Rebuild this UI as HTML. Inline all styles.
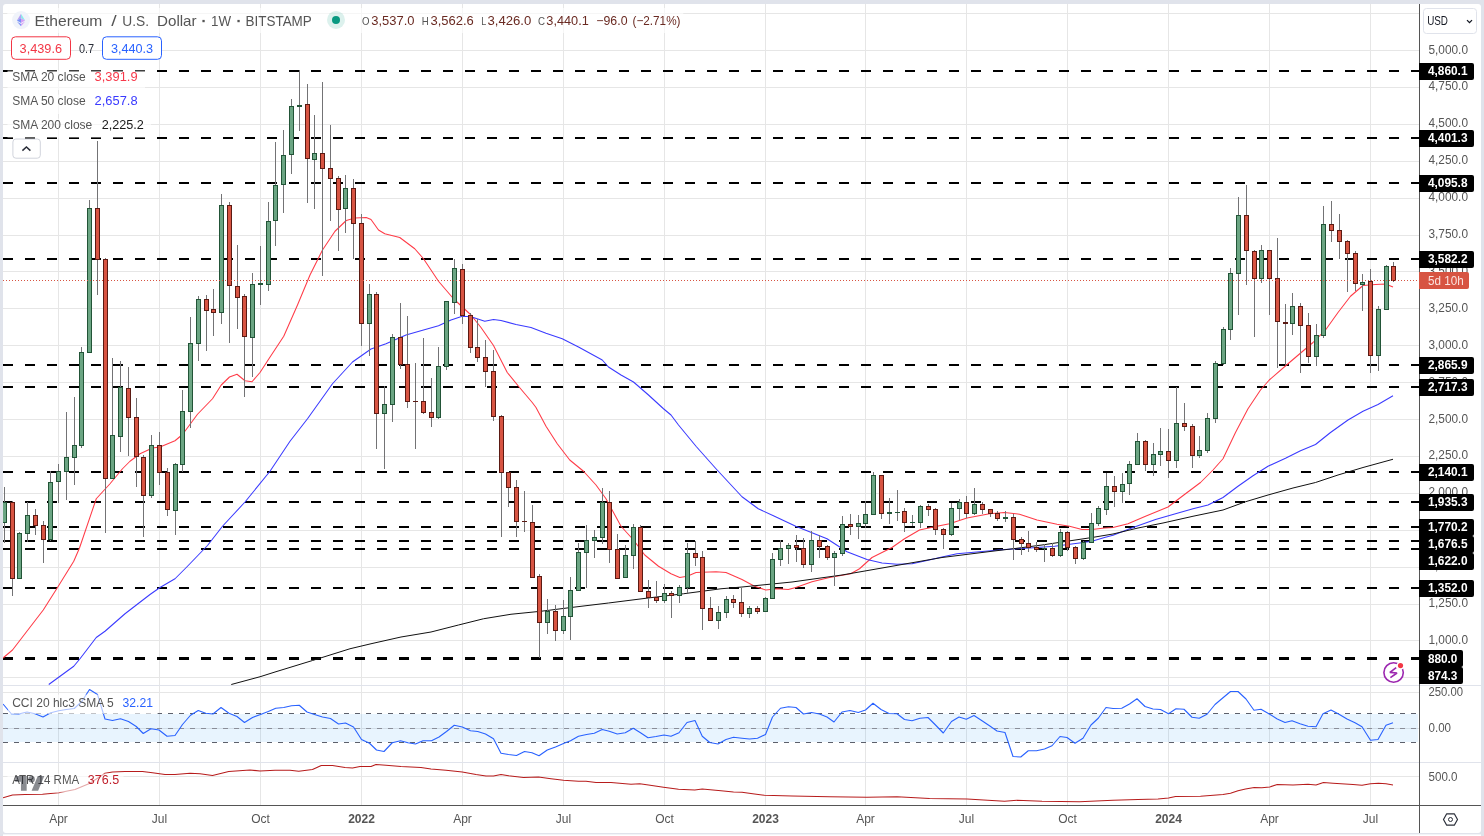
<!DOCTYPE html>
<html><head><meta charset="utf-8"><title>ETHUSD</title>
<style>html,body{margin:0;padding:0;background:#e0e3eb;}body{width:1484px;height:836px;overflow:hidden;font-family:"Liberation Sans", sans-serif;}svg{display:block;will-change:transform;}</style>
</head><body>
<svg width="1484" height="836" viewBox="0 0 1484 836" font-family='"Liberation Sans", sans-serif'>
<rect width="1484" height="836" fill="#e0e3eb"/>
<rect x="3" y="4" width="1478" height="829" rx="3" fill="#fff"/>
<rect x="3" y="834.4" width="1478" height="1.6" fill="#fff"/>
<clipPath id="cm"><rect x="3" y="4" width="1416" height="681"/></clipPath>
<clipPath id="call"><rect x="3" y="4" width="1416" height="801"/></clipPath>
<g shape-rendering="crispEdges" fill="#e6e6e6">
<rect x="58" y="4" width="1" height="801"/>
<rect x="159" y="4" width="1" height="801"/>
<rect x="260" y="4" width="1" height="801"/>
<rect x="361" y="4" width="1" height="801"/>
<rect x="462" y="4" width="1" height="801"/>
<rect x="563" y="4" width="1" height="801"/>
<rect x="664" y="4" width="1" height="801"/>
<rect x="765" y="4" width="1" height="801"/>
<rect x="865" y="4" width="1" height="801"/>
<rect x="966" y="4" width="1" height="801"/>
<rect x="1067" y="4" width="1" height="801"/>
<rect x="1168" y="4" width="1" height="801"/>
<rect x="1269" y="4" width="1" height="801"/>
<rect x="1370" y="4" width="1" height="801"/>
<rect x="3" y="13" width="1416" height="1"/>
<rect x="3" y="50" width="1416" height="1"/>
<rect x="3" y="87" width="1416" height="1"/>
<rect x="3" y="124" width="1416" height="1"/>
<rect x="3" y="161" width="1416" height="1"/>
<rect x="3" y="198" width="1416" height="1"/>
<rect x="3" y="235" width="1416" height="1"/>
<rect x="3" y="271" width="1416" height="1"/>
<rect x="3" y="308" width="1416" height="1"/>
<rect x="3" y="345" width="1416" height="1"/>
<rect x="3" y="382" width="1416" height="1"/>
<rect x="3" y="419" width="1416" height="1"/>
<rect x="3" y="456" width="1416" height="1"/>
<rect x="3" y="493" width="1416" height="1"/>
<rect x="3" y="530" width="1416" height="1"/>
<rect x="3" y="567" width="1416" height="1"/>
<rect x="3" y="604" width="1416" height="1"/>
<rect x="3" y="640" width="1416" height="1"/>
<rect x="3" y="677" width="1416" height="1"/>
<rect x="3" y="692" width="1416" height="1"/>
<rect x="3" y="728" width="1416" height="1"/>
<rect x="3" y="776" width="1416" height="1"/>
</g>
<g shape-rendering="crispEdges" fill="#e0e3eb"><rect x="3" y="685" width="1478" height="1"/><rect x="3" y="762" width="1478" height="1"/></g>
<rect x="3" y="714" width="1415" height="28" fill="#2196f3" fill-opacity="0.1" shape-rendering="crispEdges"/>
<g stroke-width="1" stroke-dasharray="5 6" shape-rendering="crispEdges">
<line x1="3" y1="713.5" x2="1418" y2="713.5" stroke="#5d606b"/>
<line x1="3" y1="728.5" x2="1418" y2="728.5" stroke="#8a8d98"/>
<line x1="3" y1="742.5" x2="1418" y2="742.5" stroke="#5d606b"/>
</g>
<g stroke="#000" stroke-width="2" stroke-dasharray="10 12" shape-rendering="crispEdges">
<line x1="3" y1="71" x2="1419" y2="71"/>
<line x1="3" y1="138" x2="1419" y2="138"/>
<line x1="3" y1="183" x2="1419" y2="183"/>
<line x1="3" y1="259" x2="1419" y2="259"/>
<line x1="3" y1="365" x2="1419" y2="365"/>
<line x1="3" y1="387" x2="1419" y2="387"/>
<line x1="3" y1="472" x2="1419" y2="472"/>
<line x1="3" y1="502" x2="1419" y2="502"/>
<line x1="3" y1="527" x2="1419" y2="527"/>
<line x1="3" y1="541" x2="1419" y2="541"/>
<line x1="3" y1="549" x2="1419" y2="549"/>
<line x1="3" y1="588" x2="1419" y2="588"/>
<line x1="3" y1="658" x2="1419" y2="658"/>
<line x1="3" y1="659" x2="1419" y2="659"/>
</g>
<polyline clip-path="url(#cm)" points="3.00,658.00 12.50,650.00 43.25,610.00 57.50,587.50 73.75,561.25 79.50,548.00 96.25,498.75 110.00,483.75 122.50,468.75 130.00,461.25 140.00,453.75 152.50,448.00 160.00,447.00 175.00,440.75 182.50,434.50 197.50,414.25 212.50,398.75 221.25,385.00 229.50,377.00 237.00,374.25 245.00,380.75 252.00,381.75 260.00,372.50 268.75,359.00 283.75,336.25 297.50,305.00 310.00,275.00 322.50,250.00 335.00,231.25 346.25,220.50 355.00,218.00 366.25,217.50 371.00,219.50 378.50,230.00 384.75,233.75 399.75,237.50 414.75,248.75 423.50,258.75 438.50,281.25 453.50,298.75 471.00,315.00 481.00,327.50 493.50,345.50 507.25,372.50 518.50,386.25 532.25,402.50 536.00,407.50 546.00,426.25 557.25,443.75 569.75,460.00 583.50,471.25 596.00,485.00 606.00,498.75 621.00,526.25 633.50,540.00 644.75,555.00 658.50,566.25 671.00,573.75 679.75,577.50 687.25,576.25 696.00,572.50 716.00,571.75 726.00,572.50 742.00,579.50 754.50,586.25 765.75,590.00 777.00,588.75 788.25,589.50 795.75,587.50 812.00,581.75 829.50,577.50 850.75,573.75 859.50,568.75 872.00,557.50 892.00,547.50 904.50,538.75 919.50,530.00 937.00,526.25 949.50,523.75 967.00,518.00 989.50,513.75 1004.50,512.50 1019.50,514.25 1037.00,520.00 1057.00,524.25 1069.50,526.25 1082.00,529.50 1092.00,529.50 1104.50,528.00 1113.00,527.50 1128.00,523.75 1145.50,516.25 1168.00,507.00 1185.50,493.75 1200.50,482.50 1213.00,470.00 1223.00,458.75 1235.50,432.50 1248.00,408.75 1260.50,390.00 1269.25,380.00 1288.00,363.75 1303.00,351.00 1313.00,342.50 1325.50,330.00 1338.00,312.50 1350.50,296.25 1363.00,285.50 1375.50,284.50 1385.50,284.00 1393.00,287.00" fill="none" stroke="#ff3b47" stroke-width="1.05" stroke-linejoin="round" stroke-opacity="1"/>
<polyline clip-path="url(#cm)" points="48.75,684.50 73.75,666.25 80.00,658.75 96.25,637.50 105.00,631.25 125.00,613.75 150.00,594.50 160.00,587.50 175.00,578.75 187.50,566.25 207.50,545.50 222.50,526.25 245.00,502.00 270.00,471.25 290.00,441.25 307.50,418.75 332.50,383.75 352.50,362.00 371.00,349.00 386.00,343.75 406.00,335.00 423.50,330.00 438.50,325.75 451.00,320.00 462.25,316.25 471.00,316.75 484.75,321.25 493.50,319.50 501.00,320.50 516.00,324.50 531.00,327.50 546.00,333.25 562.25,338.75 578.50,347.00 602.25,360.00 608.50,367.00 621.00,375.00 633.50,382.00 648.50,395.00 663.50,408.75 671.00,415.00 678.50,425.00 696.00,446.25 716.00,468.75 742.00,496.75 758.25,508.75 774.50,516.25 795.75,526.25 827.00,538.75 847.00,551.75 867.00,559.50 882.00,563.00 897.00,564.25 912.00,563.75 927.00,560.50 942.00,557.00 957.00,553.75 979.50,551.75 1004.50,549.50 1029.50,548.00 1054.50,546.25 1079.50,543.00 1092.00,541.25 1104.50,537.50 1113.00,535.25 1133.00,527.50 1155.50,519.50 1175.50,513.75 1193.00,508.75 1208.00,505.00 1223.00,497.50 1238.00,486.25 1253.00,475.75 1268.00,466.25 1285.50,458.25 1300.50,450.75 1315.50,444.50 1330.50,432.50 1348.00,420.00 1363.00,411.25 1378.00,404.50 1393.00,395.75" fill="none" stroke="#3a3aff" stroke-width="1.05" stroke-linejoin="round" stroke-opacity="1"/>
<polyline clip-path="url(#cm)" points="231.25,684.50 260.00,676.75 275.00,672.00 312.50,660.50 350.00,648.75 371.00,643.75 401.00,637.00 431.00,632.00 458.50,625.00 483.50,618.75 511.00,614.25 541.00,611.25 571.00,607.50 608.50,603.00 646.00,598.25 683.50,593.75 721.00,588.75 742.00,587.00 792.00,582.00 842.00,575.00 892.00,566.25 942.00,557.50 992.00,551.25 1017.00,548.25 1042.00,545.00 1067.00,541.25 1092.00,537.50 1113.00,534.00 1138.00,528.00 1163.00,523.00 1193.00,516.25 1223.00,510.00 1245.50,501.75 1268.00,495.00 1293.00,488.00 1315.50,482.50 1338.00,475.00 1363.00,467.50 1393.00,459.25" fill="none" stroke="#111" stroke-width="1.0" stroke-linejoin="round" stroke-opacity="1"/>
<polyline clip-path="url(#call)" points="3.00,704.00 11.25,713.75 18.75,714.00 27.00,712.00 35.00,713.75 43.00,717.00 50.75,712.75 58.75,710.75 66.25,709.50 74.25,708.50 81.75,701.50 89.50,689.50 97.50,694.50 105.00,719.00 112.50,720.50 120.50,718.75 128.50,721.50 136.25,726.50 143.25,733.50 151.00,728.75 159.00,730.00 167.00,736.25 175.00,735.50 182.50,724.50 190.50,715.25 198.25,710.50 205.75,713.25 213.00,714.00 221.00,707.50 229.00,713.25 237.00,716.50 244.50,722.50 252.50,717.50 260.50,714.50 268.25,711.50 275.75,708.25 283.75,707.50 291.50,705.75 299.25,705.25 307.00,712.00 314.50,714.50 322.50,717.00 330.50,718.50 338.50,724.00 345.50,723.00 353.50,727.00 361.50,739.50 369.50,743.25 376.50,750.00 384.00,751.50 392.25,742.75 400.50,740.75 408.00,742.75 415.50,744.00 423.00,740.75 431.50,740.75 439.00,737.00 446.50,731.50 454.25,725.25 462.25,727.00 470.50,730.75 477.75,731.50 485.50,734.00 493.50,738.75 501.00,753.25 508.50,754.50 516.50,755.50 524.50,751.50 532.00,752.75 539.00,755.75 547.25,750.00 555.50,747.00 563.50,743.50 570.50,740.75 578.50,736.25 586.50,734.50 594.25,733.25 602.25,729.50 609.25,731.25 617.25,734.00 625.25,732.75 633.25,728.25 640.50,732.75 648.00,737.75 656.00,736.50 664.00,735.00 671.00,736.25 679.00,732.75 687.00,722.50 695.00,720.50 702.25,736.25 709.75,742.50 718.00,744.00 726.00,739.50 733.50,737.25 742.00,738.25 749.50,739.00 757.50,738.25 765.50,734.50 772.50,717.00 780.50,708.25 788.50,706.75 796.00,707.50 803.50,714.00 811.50,712.50 819.50,714.00 827.00,717.00 834.00,722.00 842.00,712.00 850.00,710.50 858.25,712.50 865.50,710.00 873.00,703.25 881.00,709.50 889.00,713.50 897.00,713.75 904.50,719.50 912.00,720.75 920.00,718.25 928.00,717.50 935.50,725.00 943.25,733.00 951.50,721.50 959.00,717.00 966.25,719.25 974.00,715.50 982.00,720.75 989.50,725.75 997.00,731.00 1005.00,732.50 1013.00,756.50 1020.75,757.00 1028.25,750.75 1036.50,750.75 1044.50,749.00 1052.00,745.75 1060.00,736.50 1067.00,737.50 1075.00,743.25 1083.00,738.25 1091.00,725.00 1098.25,718.25 1106.00,707.50 1113.00,708.50 1121.75,708.25 1129.50,704.00 1137.00,698.75 1145.00,706.50 1153.00,709.00 1160.50,709.50 1168.50,713.75 1176.00,708.75 1184.00,709.25 1192.00,717.25 1199.25,718.25 1207.00,714.25 1215.00,704.50 1223.00,697.75 1230.50,691.50 1238.00,691.50 1246.00,699.00 1254.00,710.25 1261.00,709.25 1269.25,714.00 1277.25,719.00 1285.00,722.50 1292.00,720.75 1300.00,723.75 1308.00,726.25 1316.00,726.75 1323.00,713.75 1331.00,710.00 1339.00,714.25 1347.00,719.00 1355.00,722.75 1362.00,726.75 1370.50,740.25 1378.00,739.50 1386.00,725.25 1393.00,722.75" fill="none" stroke="#2962ff" stroke-width="1.1" stroke-linejoin="round" stroke-opacity="1"/>
<polyline clip-path="url(#call)" points="3.00,797.75 12.50,795.00 25.00,794.50 42.50,794.25 58.75,792.75 75.00,789.50 90.00,783.25 97.50,778.25 105.00,773.25 112.50,772.00 125.00,771.50 142.50,771.50 152.50,772.75 165.00,774.50 175.00,774.50 190.00,773.25 200.00,773.75 212.50,775.50 228.75,771.50 250.00,770.00 260.00,771.00 275.00,770.25 290.00,770.25 298.75,771.25 312.50,769.50 321.25,765.50 332.50,765.50 345.00,767.50 352.50,768.00 360.00,766.50 371.00,766.50 376.00,764.50 386.00,765.25 401.00,766.50 421.00,767.50 431.00,769.00 446.00,770.25 462.25,772.00 476.00,774.50 486.00,776.00 493.50,776.00 501.00,774.50 508.50,775.75 523.50,777.50 538.50,777.00 551.00,778.75 563.50,780.25 578.50,781.25 586.00,781.25 596.00,782.50 611.00,782.50 631.00,784.25 639.75,783.75 648.50,785.00 663.50,787.25 678.50,789.25 694.75,790.00 702.25,789.00 721.00,790.75 733.50,792.00 742.00,792.25 754.50,794.00 764.50,795.25 792.00,796.00 829.50,796.75 867.00,797.25 897.00,796.75 929.50,798.50 967.00,799.00 1004.50,801.25 1017.00,800.25 1042.00,801.25 1079.50,801.75 1113.00,800.25 1138.00,799.50 1158.00,799.00 1168.50,798.00 1175.50,796.50 1200.50,796.25 1223.00,794.50 1230.50,793.25 1238.00,790.75 1245.50,789.00 1254.25,787.50 1261.75,787.75 1269.75,787.00 1277.25,784.50 1293.00,785.00 1308.00,784.25 1316.00,785.00 1323.50,782.50 1333.00,783.25 1353.00,784.50 1362.00,785.25 1370.50,783.75 1378.50,783.25 1386.00,783.75 1393.00,785.00" fill="none" stroke="#b71c1c" stroke-width="1.1" stroke-linejoin="round" stroke-opacity="1"/>
<g clip-path="url(#cm)" shape-rendering="crispEdges">
<rect x="4" y="487" width="1" height="56" fill="#737375"/>
<rect x="2" y="502" width="5" height="21" fill="#225437"/>
<rect x="3" y="503" width="3" height="19" fill="#6BA583"/>
<rect x="12" y="501" width="1" height="95" fill="#737375"/>
<rect x="10" y="502" width="5" height="77" fill="#5B1A13"/>
<rect x="11" y="503" width="3" height="75" fill="#D75442"/>
<rect x="19" y="532" width="1" height="46" fill="#737375"/>
<rect x="17" y="533" width="5" height="46" fill="#225437"/>
<rect x="18" y="534" width="3" height="44" fill="#6BA583"/>
<rect x="27" y="502" width="1" height="40" fill="#737375"/>
<rect x="25" y="515" width="5" height="19" fill="#225437"/>
<rect x="26" y="516" width="3" height="17" fill="#6BA583"/>
<rect x="35" y="509" width="1" height="26" fill="#737375"/>
<rect x="33" y="515" width="5" height="11" fill="#5B1A13"/>
<rect x="34" y="516" width="3" height="9" fill="#D75442"/>
<rect x="43" y="521" width="1" height="42" fill="#737375"/>
<rect x="41" y="525" width="5" height="15" fill="#5B1A13"/>
<rect x="42" y="526" width="3" height="13" fill="#D75442"/>
<rect x="50" y="471" width="1" height="70" fill="#737375"/>
<rect x="48" y="482" width="5" height="58" fill="#225437"/>
<rect x="49" y="483" width="3" height="56" fill="#6BA583"/>
<rect x="58" y="464" width="1" height="39" fill="#737375"/>
<rect x="56" y="471" width="5" height="11" fill="#225437"/>
<rect x="57" y="472" width="3" height="9" fill="#6BA583"/>
<rect x="66" y="412" width="1" height="88" fill="#737375"/>
<rect x="64" y="457" width="5" height="15" fill="#225437"/>
<rect x="65" y="458" width="3" height="13" fill="#6BA583"/>
<rect x="74" y="397" width="1" height="88" fill="#737375"/>
<rect x="72" y="445" width="5" height="13" fill="#225437"/>
<rect x="73" y="446" width="3" height="11" fill="#6BA583"/>
<rect x="81" y="347" width="1" height="101" fill="#737375"/>
<rect x="79" y="352" width="5" height="94" fill="#225437"/>
<rect x="80" y="353" width="3" height="92" fill="#6BA583"/>
<rect x="89" y="200" width="1" height="153" fill="#737375"/>
<rect x="87" y="208" width="5" height="145" fill="#225437"/>
<rect x="88" y="209" width="3" height="143" fill="#6BA583"/>
<rect x="97" y="141" width="1" height="154" fill="#737375"/>
<rect x="95" y="208" width="5" height="52" fill="#5B1A13"/>
<rect x="96" y="209" width="3" height="50" fill="#D75442"/>
<rect x="105" y="258" width="1" height="275" fill="#737375"/>
<rect x="103" y="259" width="5" height="220" fill="#5B1A13"/>
<rect x="104" y="260" width="3" height="218" fill="#D75442"/>
<rect x="112" y="358" width="1" height="120" fill="#737375"/>
<rect x="110" y="435" width="5" height="44" fill="#225437"/>
<rect x="111" y="436" width="3" height="42" fill="#6BA583"/>
<rect x="120" y="361" width="1" height="91" fill="#737375"/>
<rect x="118" y="387" width="5" height="50" fill="#225437"/>
<rect x="119" y="388" width="3" height="48" fill="#6BA583"/>
<rect x="128" y="367" width="1" height="89" fill="#737375"/>
<rect x="126" y="388" width="5" height="30" fill="#5B1A13"/>
<rect x="127" y="389" width="3" height="28" fill="#D75442"/>
<rect x="136" y="398" width="1" height="89" fill="#737375"/>
<rect x="134" y="417" width="5" height="40" fill="#5B1A13"/>
<rect x="135" y="418" width="3" height="38" fill="#D75442"/>
<rect x="143" y="455" width="1" height="82" fill="#737375"/>
<rect x="141" y="457" width="5" height="39" fill="#5B1A13"/>
<rect x="142" y="458" width="3" height="37" fill="#D75442"/>
<rect x="151" y="435" width="1" height="63" fill="#737375"/>
<rect x="149" y="445" width="5" height="51" fill="#225437"/>
<rect x="150" y="446" width="3" height="49" fill="#6BA583"/>
<rect x="159" y="432" width="1" height="53" fill="#737375"/>
<rect x="157" y="445" width="5" height="28" fill="#5B1A13"/>
<rect x="158" y="446" width="3" height="26" fill="#D75442"/>
<rect x="167" y="468" width="1" height="48" fill="#737375"/>
<rect x="165" y="472" width="5" height="38" fill="#5B1A13"/>
<rect x="166" y="473" width="3" height="36" fill="#D75442"/>
<rect x="175" y="463" width="1" height="72" fill="#737375"/>
<rect x="173" y="464" width="5" height="47" fill="#225437"/>
<rect x="174" y="465" width="3" height="45" fill="#6BA583"/>
<rect x="182" y="390" width="1" height="82" fill="#737375"/>
<rect x="180" y="411" width="5" height="54" fill="#225437"/>
<rect x="181" y="412" width="3" height="52" fill="#6BA583"/>
<rect x="190" y="317" width="1" height="111" fill="#737375"/>
<rect x="188" y="343" width="5" height="69" fill="#225437"/>
<rect x="189" y="344" width="3" height="67" fill="#6BA583"/>
<rect x="198" y="296" width="1" height="65" fill="#737375"/>
<rect x="196" y="299" width="5" height="45" fill="#225437"/>
<rect x="197" y="300" width="3" height="43" fill="#6BA583"/>
<rect x="206" y="295" width="1" height="56" fill="#737375"/>
<rect x="204" y="299" width="5" height="12" fill="#5B1A13"/>
<rect x="205" y="300" width="3" height="10" fill="#D75442"/>
<rect x="213" y="289" width="1" height="47" fill="#737375"/>
<rect x="211" y="309" width="5" height="4" fill="#5B1A13"/>
<rect x="212" y="310" width="3" height="2" fill="#D75442"/>
<rect x="221" y="194" width="1" height="130" fill="#737375"/>
<rect x="219" y="205" width="5" height="108" fill="#225437"/>
<rect x="220" y="206" width="3" height="106" fill="#6BA583"/>
<rect x="229" y="202" width="1" height="141" fill="#737375"/>
<rect x="227" y="205" width="5" height="81" fill="#5B1A13"/>
<rect x="228" y="206" width="3" height="79" fill="#D75442"/>
<rect x="237" y="245" width="1" height="84" fill="#737375"/>
<rect x="235" y="286" width="5" height="12" fill="#5B1A13"/>
<rect x="236" y="287" width="3" height="10" fill="#D75442"/>
<rect x="244" y="294" width="1" height="103" fill="#737375"/>
<rect x="242" y="296" width="5" height="41" fill="#5B1A13"/>
<rect x="243" y="297" width="3" height="39" fill="#D75442"/>
<rect x="252" y="273" width="1" height="104" fill="#737375"/>
<rect x="250" y="284" width="5" height="54" fill="#225437"/>
<rect x="251" y="285" width="3" height="52" fill="#6BA583"/>
<rect x="260" y="246" width="1" height="59" fill="#737375"/>
<rect x="258" y="283" width="5" height="2" fill="#225437"/>
<rect x="268" y="202" width="1" height="89" fill="#737375"/>
<rect x="266" y="221" width="5" height="64" fill="#225437"/>
<rect x="267" y="222" width="3" height="62" fill="#6BA583"/>
<rect x="275" y="142" width="1" height="104" fill="#737375"/>
<rect x="273" y="185" width="5" height="36" fill="#225437"/>
<rect x="274" y="186" width="3" height="34" fill="#6BA583"/>
<rect x="283" y="130" width="1" height="83" fill="#737375"/>
<rect x="281" y="155" width="5" height="30" fill="#225437"/>
<rect x="282" y="156" width="3" height="28" fill="#6BA583"/>
<rect x="291" y="99" width="1" height="75" fill="#737375"/>
<rect x="289" y="106" width="5" height="49" fill="#225437"/>
<rect x="290" y="107" width="3" height="47" fill="#6BA583"/>
<rect x="299" y="70" width="1" height="61" fill="#737375"/>
<rect x="297" y="105" width="5" height="2" fill="#225437"/>
<rect x="307" y="84" width="1" height="119" fill="#737375"/>
<rect x="305" y="104" width="5" height="55" fill="#5B1A13"/>
<rect x="306" y="105" width="3" height="53" fill="#D75442"/>
<rect x="314" y="115" width="1" height="94" fill="#737375"/>
<rect x="312" y="153" width="5" height="7" fill="#225437"/>
<rect x="313" y="154" width="3" height="5" fill="#6BA583"/>
<rect x="322" y="82" width="1" height="194" fill="#737375"/>
<rect x="320" y="153" width="5" height="16" fill="#5B1A13"/>
<rect x="321" y="154" width="3" height="14" fill="#D75442"/>
<rect x="330" y="125" width="1" height="96" fill="#737375"/>
<rect x="328" y="168" width="5" height="11" fill="#5B1A13"/>
<rect x="329" y="169" width="3" height="9" fill="#D75442"/>
<rect x="338" y="176" width="1" height="75" fill="#737375"/>
<rect x="336" y="178" width="5" height="32" fill="#5B1A13"/>
<rect x="337" y="179" width="3" height="30" fill="#D75442"/>
<rect x="345" y="175" width="1" height="58" fill="#737375"/>
<rect x="343" y="188" width="5" height="21" fill="#225437"/>
<rect x="344" y="189" width="3" height="19" fill="#6BA583"/>
<rect x="353" y="179" width="1" height="80" fill="#737375"/>
<rect x="351" y="188" width="5" height="36" fill="#5B1A13"/>
<rect x="352" y="189" width="3" height="34" fill="#D75442"/>
<rect x="361" y="214" width="1" height="132" fill="#737375"/>
<rect x="359" y="223" width="5" height="101" fill="#5B1A13"/>
<rect x="360" y="224" width="3" height="99" fill="#D75442"/>
<rect x="369" y="284" width="1" height="72" fill="#737375"/>
<rect x="367" y="294" width="5" height="30" fill="#225437"/>
<rect x="368" y="295" width="3" height="28" fill="#6BA583"/>
<rect x="376" y="292" width="1" height="157" fill="#737375"/>
<rect x="374" y="294" width="5" height="120" fill="#5B1A13"/>
<rect x="375" y="295" width="3" height="118" fill="#D75442"/>
<rect x="384" y="386" width="1" height="83" fill="#737375"/>
<rect x="382" y="404" width="5" height="10" fill="#225437"/>
<rect x="383" y="405" width="3" height="8" fill="#6BA583"/>
<rect x="392" y="334" width="1" height="88" fill="#737375"/>
<rect x="390" y="337" width="5" height="68" fill="#225437"/>
<rect x="391" y="338" width="3" height="66" fill="#6BA583"/>
<rect x="400" y="303" width="1" height="66" fill="#737375"/>
<rect x="398" y="337" width="5" height="28" fill="#5B1A13"/>
<rect x="399" y="338" width="3" height="26" fill="#D75442"/>
<rect x="407" y="316" width="1" height="92" fill="#737375"/>
<rect x="405" y="364" width="5" height="38" fill="#5B1A13"/>
<rect x="406" y="365" width="3" height="36" fill="#D75442"/>
<rect x="415" y="363" width="1" height="86" fill="#737375"/>
<rect x="413" y="401" width="5" height="1" fill="#5B1A13"/>
<rect x="423" y="338" width="1" height="76" fill="#737375"/>
<rect x="421" y="401" width="5" height="12" fill="#5B1A13"/>
<rect x="422" y="402" width="3" height="10" fill="#D75442"/>
<rect x="431" y="378" width="1" height="49" fill="#737375"/>
<rect x="429" y="412" width="5" height="6" fill="#5B1A13"/>
<rect x="430" y="413" width="3" height="4" fill="#D75442"/>
<rect x="438" y="347" width="1" height="72" fill="#737375"/>
<rect x="436" y="366" width="5" height="52" fill="#225437"/>
<rect x="437" y="367" width="3" height="50" fill="#6BA583"/>
<rect x="446" y="301" width="1" height="69" fill="#737375"/>
<rect x="444" y="301" width="5" height="66" fill="#225437"/>
<rect x="445" y="302" width="3" height="64" fill="#6BA583"/>
<rect x="454" y="259" width="1" height="55" fill="#737375"/>
<rect x="452" y="268" width="5" height="35" fill="#225437"/>
<rect x="453" y="269" width="3" height="33" fill="#6BA583"/>
<rect x="462" y="264" width="1" height="60" fill="#737375"/>
<rect x="460" y="269" width="5" height="47" fill="#5B1A13"/>
<rect x="461" y="270" width="3" height="45" fill="#D75442"/>
<rect x="470" y="313" width="1" height="40" fill="#737375"/>
<rect x="468" y="315" width="5" height="33" fill="#5B1A13"/>
<rect x="469" y="316" width="3" height="31" fill="#D75442"/>
<rect x="477" y="319" width="1" height="43" fill="#737375"/>
<rect x="475" y="347" width="5" height="11" fill="#5B1A13"/>
<rect x="476" y="348" width="3" height="9" fill="#D75442"/>
<rect x="485" y="340" width="1" height="47" fill="#737375"/>
<rect x="483" y="357" width="5" height="15" fill="#5B1A13"/>
<rect x="484" y="358" width="3" height="13" fill="#D75442"/>
<rect x="493" y="350" width="1" height="71" fill="#737375"/>
<rect x="491" y="371" width="5" height="46" fill="#5B1A13"/>
<rect x="492" y="372" width="3" height="44" fill="#D75442"/>
<rect x="501" y="415" width="1" height="122" fill="#737375"/>
<rect x="499" y="416" width="5" height="57" fill="#5B1A13"/>
<rect x="500" y="417" width="3" height="55" fill="#D75442"/>
<rect x="508" y="472" width="1" height="35" fill="#737375"/>
<rect x="506" y="472" width="5" height="16" fill="#5B1A13"/>
<rect x="507" y="473" width="3" height="14" fill="#D75442"/>
<rect x="516" y="480" width="1" height="57" fill="#737375"/>
<rect x="514" y="487" width="5" height="35" fill="#5B1A13"/>
<rect x="515" y="488" width="3" height="33" fill="#D75442"/>
<rect x="524" y="491" width="1" height="41" fill="#737375"/>
<rect x="522" y="521" width="5" height="1" fill="#5B1A13"/>
<rect x="532" y="505" width="1" height="73" fill="#737375"/>
<rect x="530" y="522" width="5" height="56" fill="#5B1A13"/>
<rect x="531" y="523" width="3" height="54" fill="#D75442"/>
<rect x="539" y="574" width="1" height="84" fill="#737375"/>
<rect x="537" y="576" width="5" height="47" fill="#5B1A13"/>
<rect x="538" y="577" width="3" height="45" fill="#D75442"/>
<rect x="547" y="599" width="1" height="35" fill="#737375"/>
<rect x="545" y="611" width="5" height="12" fill="#225437"/>
<rect x="546" y="612" width="3" height="10" fill="#6BA583"/>
<rect x="555" y="605" width="1" height="36" fill="#737375"/>
<rect x="553" y="611" width="5" height="20" fill="#5B1A13"/>
<rect x="554" y="612" width="3" height="18" fill="#D75442"/>
<rect x="563" y="600" width="1" height="34" fill="#737375"/>
<rect x="561" y="616" width="5" height="15" fill="#225437"/>
<rect x="562" y="617" width="3" height="13" fill="#6BA583"/>
<rect x="570" y="577" width="1" height="63" fill="#737375"/>
<rect x="568" y="590" width="5" height="27" fill="#225437"/>
<rect x="569" y="591" width="3" height="25" fill="#6BA583"/>
<rect x="578" y="543" width="1" height="48" fill="#737375"/>
<rect x="576" y="552" width="5" height="39" fill="#225437"/>
<rect x="577" y="553" width="3" height="37" fill="#6BA583"/>
<rect x="586" y="525" width="1" height="63" fill="#737375"/>
<rect x="584" y="540" width="5" height="13" fill="#225437"/>
<rect x="585" y="541" width="3" height="11" fill="#6BA583"/>
<rect x="594" y="530" width="1" height="28" fill="#737375"/>
<rect x="592" y="537" width="5" height="4" fill="#225437"/>
<rect x="593" y="538" width="3" height="2" fill="#6BA583"/>
<rect x="602" y="488" width="1" height="56" fill="#737375"/>
<rect x="600" y="502" width="5" height="36" fill="#225437"/>
<rect x="601" y="503" width="3" height="34" fill="#6BA583"/>
<rect x="609" y="491" width="1" height="72" fill="#737375"/>
<rect x="607" y="502" width="5" height="48" fill="#5B1A13"/>
<rect x="608" y="503" width="3" height="46" fill="#D75442"/>
<rect x="617" y="534" width="1" height="45" fill="#737375"/>
<rect x="615" y="549" width="5" height="30" fill="#5B1A13"/>
<rect x="616" y="550" width="3" height="28" fill="#D75442"/>
<rect x="625" y="545" width="1" height="33" fill="#737375"/>
<rect x="623" y="555" width="5" height="23" fill="#225437"/>
<rect x="624" y="556" width="3" height="21" fill="#6BA583"/>
<rect x="633" y="524" width="1" height="45" fill="#737375"/>
<rect x="631" y="527" width="5" height="29" fill="#225437"/>
<rect x="632" y="528" width="3" height="27" fill="#6BA583"/>
<rect x="640" y="525" width="1" height="67" fill="#737375"/>
<rect x="638" y="527" width="5" height="65" fill="#5B1A13"/>
<rect x="639" y="528" width="3" height="63" fill="#D75442"/>
<rect x="648" y="580" width="1" height="28" fill="#737375"/>
<rect x="646" y="591" width="5" height="7" fill="#5B1A13"/>
<rect x="647" y="592" width="3" height="5" fill="#D75442"/>
<rect x="656" y="581" width="1" height="22" fill="#737375"/>
<rect x="654" y="597" width="5" height="4" fill="#5B1A13"/>
<rect x="655" y="598" width="3" height="2" fill="#D75442"/>
<rect x="664" y="584" width="1" height="19" fill="#737375"/>
<rect x="662" y="593" width="5" height="8" fill="#225437"/>
<rect x="663" y="594" width="3" height="6" fill="#6BA583"/>
<rect x="671" y="591" width="1" height="27" fill="#737375"/>
<rect x="669" y="593" width="5" height="3" fill="#5B1A13"/>
<rect x="670" y="594" width="3" height="1" fill="#D75442"/>
<rect x="679" y="585" width="1" height="18" fill="#737375"/>
<rect x="677" y="587" width="5" height="9" fill="#225437"/>
<rect x="678" y="588" width="3" height="7" fill="#6BA583"/>
<rect x="687" y="543" width="1" height="50" fill="#737375"/>
<rect x="685" y="553" width="5" height="35" fill="#225437"/>
<rect x="686" y="554" width="3" height="33" fill="#6BA583"/>
<rect x="695" y="541" width="1" height="25" fill="#737375"/>
<rect x="693" y="553" width="5" height="5" fill="#5B1A13"/>
<rect x="694" y="554" width="3" height="3" fill="#D75442"/>
<rect x="702" y="551" width="1" height="79" fill="#737375"/>
<rect x="700" y="557" width="5" height="52" fill="#5B1A13"/>
<rect x="701" y="558" width="3" height="50" fill="#D75442"/>
<rect x="710" y="597" width="1" height="24" fill="#737375"/>
<rect x="708" y="608" width="5" height="13" fill="#5B1A13"/>
<rect x="709" y="609" width="3" height="11" fill="#D75442"/>
<rect x="718" y="606" width="1" height="23" fill="#737375"/>
<rect x="716" y="612" width="5" height="9" fill="#225437"/>
<rect x="717" y="613" width="3" height="7" fill="#6BA583"/>
<rect x="726" y="596" width="1" height="22" fill="#737375"/>
<rect x="724" y="599" width="5" height="14" fill="#225437"/>
<rect x="725" y="600" width="3" height="12" fill="#6BA583"/>
<rect x="733" y="595" width="1" height="13" fill="#737375"/>
<rect x="731" y="599" width="5" height="4" fill="#5B1A13"/>
<rect x="732" y="600" width="3" height="2" fill="#D75442"/>
<rect x="741" y="588" width="1" height="29" fill="#737375"/>
<rect x="739" y="602" width="5" height="12" fill="#5B1A13"/>
<rect x="740" y="603" width="3" height="10" fill="#D75442"/>
<rect x="749" y="606" width="1" height="12" fill="#737375"/>
<rect x="747" y="608" width="5" height="6" fill="#225437"/>
<rect x="748" y="609" width="3" height="4" fill="#6BA583"/>
<rect x="757" y="606" width="1" height="8" fill="#737375"/>
<rect x="755" y="608" width="5" height="4" fill="#5B1A13"/>
<rect x="756" y="609" width="3" height="2" fill="#D75442"/>
<rect x="765" y="597" width="1" height="15" fill="#737375"/>
<rect x="763" y="598" width="5" height="14" fill="#225437"/>
<rect x="764" y="599" width="3" height="12" fill="#6BA583"/>
<rect x="772" y="553" width="1" height="46" fill="#737375"/>
<rect x="770" y="559" width="5" height="40" fill="#225437"/>
<rect x="771" y="560" width="3" height="38" fill="#6BA583"/>
<rect x="780" y="540" width="1" height="26" fill="#737375"/>
<rect x="778" y="548" width="5" height="12" fill="#225437"/>
<rect x="779" y="549" width="3" height="10" fill="#6BA583"/>
<rect x="788" y="543" width="1" height="21" fill="#737375"/>
<rect x="786" y="545" width="5" height="4" fill="#225437"/>
<rect x="787" y="546" width="3" height="2" fill="#6BA583"/>
<rect x="796" y="535" width="1" height="27" fill="#737375"/>
<rect x="794" y="545" width="5" height="3" fill="#5B1A13"/>
<rect x="795" y="546" width="3" height="1" fill="#D75442"/>
<rect x="803" y="538" width="1" height="30" fill="#737375"/>
<rect x="801" y="548" width="5" height="17" fill="#5B1A13"/>
<rect x="802" y="549" width="3" height="15" fill="#D75442"/>
<rect x="811" y="531" width="1" height="41" fill="#737375"/>
<rect x="809" y="540" width="5" height="25" fill="#225437"/>
<rect x="810" y="541" width="3" height="23" fill="#6BA583"/>
<rect x="819" y="535" width="1" height="23" fill="#737375"/>
<rect x="817" y="540" width="5" height="7" fill="#5B1A13"/>
<rect x="818" y="541" width="3" height="5" fill="#D75442"/>
<rect x="827" y="545" width="1" height="15" fill="#737375"/>
<rect x="825" y="546" width="5" height="12" fill="#5B1A13"/>
<rect x="826" y="547" width="3" height="10" fill="#D75442"/>
<rect x="834" y="551" width="1" height="35" fill="#737375"/>
<rect x="832" y="553" width="5" height="5" fill="#225437"/>
<rect x="833" y="554" width="3" height="3" fill="#6BA583"/>
<rect x="842" y="516" width="1" height="40" fill="#737375"/>
<rect x="840" y="524" width="5" height="30" fill="#225437"/>
<rect x="841" y="525" width="3" height="28" fill="#6BA583"/>
<rect x="850" y="514" width="1" height="21" fill="#737375"/>
<rect x="848" y="524" width="5" height="3" fill="#5B1A13"/>
<rect x="849" y="525" width="3" height="1" fill="#D75442"/>
<rect x="858" y="515" width="1" height="24" fill="#737375"/>
<rect x="856" y="523" width="5" height="4" fill="#225437"/>
<rect x="857" y="524" width="3" height="2" fill="#6BA583"/>
<rect x="865" y="501" width="1" height="27" fill="#737375"/>
<rect x="863" y="514" width="5" height="10" fill="#225437"/>
<rect x="864" y="515" width="3" height="8" fill="#6BA583"/>
<rect x="873" y="472" width="1" height="43" fill="#737375"/>
<rect x="871" y="475" width="5" height="40" fill="#225437"/>
<rect x="872" y="476" width="3" height="38" fill="#6BA583"/>
<rect x="881" y="475" width="1" height="44" fill="#737375"/>
<rect x="879" y="475" width="5" height="39" fill="#5B1A13"/>
<rect x="880" y="476" width="3" height="37" fill="#D75442"/>
<rect x="889" y="498" width="1" height="26" fill="#737375"/>
<rect x="887" y="512" width="5" height="2" fill="#225437"/>
<rect x="897" y="490" width="1" height="31" fill="#737375"/>
<rect x="895" y="512" width="5" height="1" fill="#225437"/>
<rect x="904" y="508" width="1" height="24" fill="#737375"/>
<rect x="902" y="511" width="5" height="12" fill="#5B1A13"/>
<rect x="903" y="512" width="3" height="10" fill="#D75442"/>
<rect x="912" y="515" width="1" height="11" fill="#737375"/>
<rect x="910" y="522" width="5" height="1" fill="#225437"/>
<rect x="920" y="505" width="1" height="23" fill="#737375"/>
<rect x="918" y="506" width="5" height="17" fill="#225437"/>
<rect x="919" y="507" width="3" height="15" fill="#6BA583"/>
<rect x="928" y="504" width="1" height="12" fill="#737375"/>
<rect x="926" y="506" width="5" height="4" fill="#5B1A13"/>
<rect x="927" y="507" width="3" height="2" fill="#D75442"/>
<rect x="935" y="508" width="1" height="27" fill="#737375"/>
<rect x="933" y="509" width="5" height="21" fill="#5B1A13"/>
<rect x="934" y="510" width="3" height="19" fill="#D75442"/>
<rect x="943" y="528" width="1" height="21" fill="#737375"/>
<rect x="941" y="529" width="5" height="6" fill="#5B1A13"/>
<rect x="942" y="530" width="3" height="4" fill="#D75442"/>
<rect x="951" y="503" width="1" height="33" fill="#737375"/>
<rect x="949" y="508" width="5" height="27" fill="#225437"/>
<rect x="950" y="509" width="3" height="25" fill="#6BA583"/>
<rect x="959" y="499" width="1" height="21" fill="#737375"/>
<rect x="957" y="502" width="5" height="7" fill="#225437"/>
<rect x="958" y="503" width="3" height="5" fill="#6BA583"/>
<rect x="966" y="496" width="1" height="22" fill="#737375"/>
<rect x="964" y="502" width="5" height="12" fill="#5B1A13"/>
<rect x="965" y="503" width="3" height="10" fill="#D75442"/>
<rect x="974" y="488" width="1" height="27" fill="#737375"/>
<rect x="972" y="504" width="5" height="10" fill="#225437"/>
<rect x="973" y="505" width="3" height="8" fill="#6BA583"/>
<rect x="982" y="502" width="1" height="12" fill="#737375"/>
<rect x="980" y="504" width="5" height="6" fill="#5B1A13"/>
<rect x="981" y="505" width="3" height="4" fill="#D75442"/>
<rect x="990" y="509" width="1" height="8" fill="#737375"/>
<rect x="988" y="509" width="5" height="5" fill="#5B1A13"/>
<rect x="989" y="510" width="3" height="3" fill="#D75442"/>
<rect x="997" y="511" width="1" height="10" fill="#737375"/>
<rect x="995" y="513" width="5" height="6" fill="#5B1A13"/>
<rect x="996" y="514" width="3" height="4" fill="#D75442"/>
<rect x="1005" y="511" width="1" height="11" fill="#737375"/>
<rect x="1003" y="517" width="5" height="2" fill="#225437"/>
<rect x="1013" y="514" width="1" height="46" fill="#737375"/>
<rect x="1011" y="517" width="5" height="23" fill="#5B1A13"/>
<rect x="1012" y="518" width="3" height="21" fill="#D75442"/>
<rect x="1021" y="537" width="1" height="18" fill="#737375"/>
<rect x="1019" y="539" width="5" height="5" fill="#5B1A13"/>
<rect x="1020" y="540" width="3" height="3" fill="#D75442"/>
<rect x="1028" y="531" width="1" height="21" fill="#737375"/>
<rect x="1026" y="543" width="5" height="5" fill="#5B1A13"/>
<rect x="1027" y="544" width="3" height="3" fill="#D75442"/>
<rect x="1036" y="542" width="1" height="10" fill="#737375"/>
<rect x="1034" y="547" width="5" height="3" fill="#5B1A13"/>
<rect x="1035" y="548" width="3" height="1" fill="#D75442"/>
<rect x="1044" y="544" width="1" height="18" fill="#737375"/>
<rect x="1042" y="548" width="5" height="1" fill="#225437"/>
<rect x="1052" y="543" width="1" height="14" fill="#737375"/>
<rect x="1050" y="548" width="5" height="8" fill="#5B1A13"/>
<rect x="1051" y="549" width="3" height="6" fill="#D75442"/>
<rect x="1060" y="529" width="1" height="28" fill="#737375"/>
<rect x="1058" y="532" width="5" height="24" fill="#225437"/>
<rect x="1059" y="533" width="3" height="22" fill="#6BA583"/>
<rect x="1067" y="531" width="1" height="20" fill="#737375"/>
<rect x="1065" y="532" width="5" height="16" fill="#5B1A13"/>
<rect x="1066" y="533" width="3" height="14" fill="#D75442"/>
<rect x="1075" y="546" width="1" height="18" fill="#737375"/>
<rect x="1073" y="547" width="5" height="12" fill="#5B1A13"/>
<rect x="1074" y="548" width="3" height="10" fill="#D75442"/>
<rect x="1083" y="541" width="1" height="19" fill="#737375"/>
<rect x="1081" y="542" width="5" height="17" fill="#225437"/>
<rect x="1082" y="543" width="3" height="15" fill="#6BA583"/>
<rect x="1091" y="513" width="1" height="30" fill="#737375"/>
<rect x="1089" y="523" width="5" height="20" fill="#225437"/>
<rect x="1090" y="524" width="3" height="18" fill="#6BA583"/>
<rect x="1098" y="506" width="1" height="20" fill="#737375"/>
<rect x="1096" y="508" width="5" height="16" fill="#225437"/>
<rect x="1097" y="509" width="3" height="14" fill="#6BA583"/>
<rect x="1106" y="473" width="1" height="42" fill="#737375"/>
<rect x="1104" y="486" width="5" height="24" fill="#225437"/>
<rect x="1105" y="487" width="3" height="22" fill="#6BA583"/>
<rect x="1114" y="476" width="1" height="31" fill="#737375"/>
<rect x="1112" y="486" width="5" height="6" fill="#5B1A13"/>
<rect x="1113" y="487" width="3" height="4" fill="#D75442"/>
<rect x="1122" y="473" width="1" height="30" fill="#737375"/>
<rect x="1120" y="484" width="5" height="8" fill="#225437"/>
<rect x="1121" y="485" width="3" height="6" fill="#6BA583"/>
<rect x="1129" y="461" width="1" height="34" fill="#737375"/>
<rect x="1127" y="464" width="5" height="20" fill="#225437"/>
<rect x="1128" y="465" width="3" height="18" fill="#6BA583"/>
<rect x="1137" y="433" width="1" height="32" fill="#737375"/>
<rect x="1135" y="441" width="5" height="24" fill="#225437"/>
<rect x="1136" y="442" width="3" height="22" fill="#6BA583"/>
<rect x="1145" y="440" width="1" height="31" fill="#737375"/>
<rect x="1143" y="441" width="5" height="24" fill="#5B1A13"/>
<rect x="1144" y="442" width="3" height="22" fill="#D75442"/>
<rect x="1153" y="443" width="1" height="33" fill="#737375"/>
<rect x="1151" y="454" width="5" height="11" fill="#225437"/>
<rect x="1152" y="455" width="3" height="9" fill="#6BA583"/>
<rect x="1160" y="428" width="1" height="38" fill="#737375"/>
<rect x="1158" y="451" width="5" height="4" fill="#225437"/>
<rect x="1159" y="452" width="3" height="2" fill="#6BA583"/>
<rect x="1168" y="429" width="1" height="49" fill="#737375"/>
<rect x="1166" y="451" width="5" height="10" fill="#5B1A13"/>
<rect x="1167" y="452" width="3" height="8" fill="#D75442"/>
<rect x="1176" y="387" width="1" height="81" fill="#737375"/>
<rect x="1174" y="423" width="5" height="38" fill="#225437"/>
<rect x="1175" y="424" width="3" height="36" fill="#6BA583"/>
<rect x="1184" y="403" width="1" height="28" fill="#737375"/>
<rect x="1182" y="423" width="5" height="4" fill="#5B1A13"/>
<rect x="1183" y="424" width="3" height="2" fill="#D75442"/>
<rect x="1192" y="424" width="1" height="44" fill="#737375"/>
<rect x="1190" y="426" width="5" height="30" fill="#5B1A13"/>
<rect x="1191" y="427" width="3" height="28" fill="#D75442"/>
<rect x="1199" y="436" width="1" height="22" fill="#737375"/>
<rect x="1197" y="450" width="5" height="6" fill="#225437"/>
<rect x="1198" y="451" width="3" height="4" fill="#6BA583"/>
<rect x="1207" y="413" width="1" height="40" fill="#737375"/>
<rect x="1205" y="418" width="5" height="33" fill="#225437"/>
<rect x="1206" y="419" width="3" height="31" fill="#6BA583"/>
<rect x="1215" y="361" width="1" height="62" fill="#737375"/>
<rect x="1213" y="363" width="5" height="56" fill="#225437"/>
<rect x="1214" y="364" width="3" height="54" fill="#6BA583"/>
<rect x="1223" y="327" width="1" height="38" fill="#737375"/>
<rect x="1221" y="329" width="5" height="35" fill="#225437"/>
<rect x="1222" y="330" width="3" height="33" fill="#6BA583"/>
<rect x="1230" y="268" width="1" height="72" fill="#737375"/>
<rect x="1228" y="273" width="5" height="57" fill="#225437"/>
<rect x="1229" y="274" width="3" height="55" fill="#6BA583"/>
<rect x="1238" y="197" width="1" height="118" fill="#737375"/>
<rect x="1236" y="215" width="5" height="59" fill="#225437"/>
<rect x="1237" y="216" width="3" height="57" fill="#6BA583"/>
<rect x="1246" y="185" width="1" height="100" fill="#737375"/>
<rect x="1244" y="215" width="5" height="36" fill="#5B1A13"/>
<rect x="1245" y="216" width="3" height="34" fill="#D75442"/>
<rect x="1254" y="250" width="1" height="87" fill="#737375"/>
<rect x="1252" y="251" width="5" height="28" fill="#5B1A13"/>
<rect x="1253" y="252" width="3" height="26" fill="#D75442"/>
<rect x="1261" y="245" width="1" height="38" fill="#737375"/>
<rect x="1259" y="250" width="5" height="29" fill="#225437"/>
<rect x="1260" y="251" width="3" height="27" fill="#6BA583"/>
<rect x="1269" y="250" width="1" height="65" fill="#737375"/>
<rect x="1267" y="250" width="5" height="29" fill="#5B1A13"/>
<rect x="1268" y="251" width="3" height="27" fill="#D75442"/>
<rect x="1277" y="238" width="1" height="130" fill="#737375"/>
<rect x="1275" y="278" width="5" height="44" fill="#5B1A13"/>
<rect x="1276" y="279" width="3" height="42" fill="#D75442"/>
<rect x="1285" y="304" width="1" height="61" fill="#737375"/>
<rect x="1283" y="322" width="5" height="2" fill="#5B1A13"/>
<rect x="1292" y="293" width="1" height="42" fill="#737375"/>
<rect x="1290" y="306" width="5" height="18" fill="#225437"/>
<rect x="1291" y="307" width="3" height="16" fill="#6BA583"/>
<rect x="1300" y="303" width="1" height="70" fill="#737375"/>
<rect x="1298" y="306" width="5" height="20" fill="#5B1A13"/>
<rect x="1299" y="307" width="3" height="18" fill="#D75442"/>
<rect x="1308" y="313" width="1" height="50" fill="#737375"/>
<rect x="1306" y="325" width="5" height="32" fill="#5B1A13"/>
<rect x="1307" y="326" width="3" height="30" fill="#D75442"/>
<rect x="1316" y="324" width="1" height="42" fill="#737375"/>
<rect x="1314" y="335" width="5" height="22" fill="#225437"/>
<rect x="1315" y="336" width="3" height="20" fill="#6BA583"/>
<rect x="1323" y="206" width="1" height="132" fill="#737375"/>
<rect x="1321" y="224" width="5" height="112" fill="#225437"/>
<rect x="1322" y="225" width="3" height="110" fill="#6BA583"/>
<rect x="1331" y="201" width="1" height="41" fill="#737375"/>
<rect x="1329" y="224" width="5" height="7" fill="#5B1A13"/>
<rect x="1330" y="225" width="3" height="5" fill="#D75442"/>
<rect x="1339" y="214" width="1" height="45" fill="#737375"/>
<rect x="1337" y="230" width="5" height="12" fill="#5B1A13"/>
<rect x="1338" y="231" width="3" height="10" fill="#D75442"/>
<rect x="1347" y="240" width="1" height="52" fill="#737375"/>
<rect x="1345" y="241" width="5" height="13" fill="#5B1A13"/>
<rect x="1346" y="242" width="3" height="11" fill="#D75442"/>
<rect x="1355" y="251" width="1" height="40" fill="#737375"/>
<rect x="1353" y="253" width="5" height="31" fill="#5B1A13"/>
<rect x="1354" y="254" width="3" height="29" fill="#D75442"/>
<rect x="1362" y="274" width="1" height="37" fill="#737375"/>
<rect x="1360" y="282" width="5" height="3" fill="#225437"/>
<rect x="1361" y="283" width="3" height="1" fill="#6BA583"/>
<rect x="1370" y="269" width="1" height="104" fill="#737375"/>
<rect x="1368" y="281" width="5" height="75" fill="#5B1A13"/>
<rect x="1369" y="282" width="3" height="73" fill="#D75442"/>
<rect x="1378" y="306" width="1" height="65" fill="#737375"/>
<rect x="1376" y="309" width="5" height="47" fill="#225437"/>
<rect x="1377" y="310" width="3" height="45" fill="#6BA583"/>
<rect x="1386" y="265" width="1" height="45" fill="#737375"/>
<rect x="1384" y="266" width="5" height="44" fill="#225437"/>
<rect x="1385" y="267" width="3" height="42" fill="#6BA583"/>
<rect x="1393" y="262" width="1" height="20" fill="#737375"/>
<rect x="1391" y="266" width="5" height="15" fill="#5B1A13"/>
<rect x="1392" y="267" width="3" height="13" fill="#D75442"/>
</g>
<line x1="3" y1="280.5" x2="1419" y2="280.5" stroke="#D75442" stroke-width="1" stroke-dasharray="1 2" shape-rendering="crispEdges"/>
<g shape-rendering="crispEdges" fill="#555"><rect x="1419" y="4" width="1" height="829"/><rect x="3" y="805" width="1478" height="1"/></g>
<text x="1428.50" y="53.60" font-size="12" fill="#555" textLength="39.50" lengthAdjust="spacingAndGlyphs">5,000.0</text>
<text x="1428.50" y="89.60" font-size="12" fill="#555" textLength="39.50" lengthAdjust="spacingAndGlyphs">4,750.0</text>
<text x="1428.50" y="126.60" font-size="12" fill="#555" textLength="39.50" lengthAdjust="spacingAndGlyphs">4,500.0</text>
<text x="1428.50" y="163.60" font-size="12" fill="#555" textLength="39.50" lengthAdjust="spacingAndGlyphs">4,250.0</text>
<text x="1428.50" y="200.60" font-size="12" fill="#555" textLength="39.50" lengthAdjust="spacingAndGlyphs">4,000.0</text>
<text x="1428.50" y="237.60" font-size="12" fill="#555" textLength="39.50" lengthAdjust="spacingAndGlyphs">3,750.0</text>
<text x="1428.50" y="274.60" font-size="12" fill="#555" textLength="39.50" lengthAdjust="spacingAndGlyphs">3,500.0</text>
<text x="1428.50" y="311.60" font-size="12" fill="#555" textLength="39.50" lengthAdjust="spacingAndGlyphs">3,250.0</text>
<text x="1428.50" y="348.60" font-size="12" fill="#555" textLength="39.50" lengthAdjust="spacingAndGlyphs">3,000.0</text>
<text x="1428.50" y="385.60" font-size="12" fill="#555" textLength="39.50" lengthAdjust="spacingAndGlyphs">2,750.0</text>
<text x="1428.50" y="422.60" font-size="12" fill="#555" textLength="39.50" lengthAdjust="spacingAndGlyphs">2,500.0</text>
<text x="1428.50" y="458.60" font-size="12" fill="#555" textLength="39.50" lengthAdjust="spacingAndGlyphs">2,250.0</text>
<text x="1428.50" y="495.60" font-size="12" fill="#555" textLength="39.50" lengthAdjust="spacingAndGlyphs">2,000.0</text>
<text x="1428.50" y="532.60" font-size="12" fill="#555" textLength="39.50" lengthAdjust="spacingAndGlyphs">1,750.0</text>
<text x="1428.50" y="569.60" font-size="12" fill="#555" textLength="39.50" lengthAdjust="spacingAndGlyphs">1,500.0</text>
<text x="1428.50" y="606.60" font-size="12" fill="#555" textLength="39.50" lengthAdjust="spacingAndGlyphs">1,250.0</text>
<text x="1428.50" y="643.60" font-size="12" fill="#555" textLength="39.50" lengthAdjust="spacingAndGlyphs">1,000.0</text>
<text x="1428.50" y="695.60" font-size="12" fill="#555" textLength="34.50" lengthAdjust="spacingAndGlyphs">250.00</text>
<text x="1428.50" y="731.90" font-size="12" fill="#555" textLength="22.50" lengthAdjust="spacingAndGlyphs">0.00</text>
<text x="1428.50" y="780.60" font-size="12" fill="#555" textLength="29.00" lengthAdjust="spacingAndGlyphs">500.0</text>
<path d="M1419 63H1472a2 2 0 0 1 2 2V78a2 2 0 0 1 -2 2H1419z" fill="#000"/>
<text x="1427.90" y="74.90" font-size="12" fill="#fff" textLength="39.60" lengthAdjust="spacingAndGlyphs" font-weight="bold">4,860.1</text>
<path d="M1419 130H1472a2 2 0 0 1 2 2V145a2 2 0 0 1 -2 2H1419z" fill="#000"/>
<text x="1427.90" y="141.90" font-size="12" fill="#fff" textLength="39.60" lengthAdjust="spacingAndGlyphs" font-weight="bold">4,401.3</text>
<path d="M1419 175H1472a2 2 0 0 1 2 2V190a2 2 0 0 1 -2 2H1419z" fill="#000"/>
<text x="1427.90" y="186.90" font-size="12" fill="#fff" textLength="39.60" lengthAdjust="spacingAndGlyphs" font-weight="bold">4,095.8</text>
<path d="M1419 251H1472a2 2 0 0 1 2 2V266a2 2 0 0 1 -2 2H1419z" fill="#000"/>
<text x="1427.90" y="262.90" font-size="12" fill="#fff" textLength="39.60" lengthAdjust="spacingAndGlyphs" font-weight="bold">3,582.2</text>
<path d="M1419 357H1472a2 2 0 0 1 2 2V372a2 2 0 0 1 -2 2H1419z" fill="#000"/>
<text x="1427.90" y="368.90" font-size="12" fill="#fff" textLength="39.60" lengthAdjust="spacingAndGlyphs" font-weight="bold">2,865.9</text>
<path d="M1419 379H1472a2 2 0 0 1 2 2V394a2 2 0 0 1 -2 2H1419z" fill="#000"/>
<text x="1427.90" y="390.90" font-size="12" fill="#fff" textLength="39.60" lengthAdjust="spacingAndGlyphs" font-weight="bold">2,717.3</text>
<path d="M1419 464H1472a2 2 0 0 1 2 2V479a2 2 0 0 1 -2 2H1419z" fill="#000"/>
<text x="1427.90" y="475.90" font-size="12" fill="#fff" textLength="39.60" lengthAdjust="spacingAndGlyphs" font-weight="bold">2,140.1</text>
<path d="M1419 494H1472a2 2 0 0 1 2 2V509a2 2 0 0 1 -2 2H1419z" fill="#000"/>
<text x="1427.90" y="505.90" font-size="12" fill="#fff" textLength="39.60" lengthAdjust="spacingAndGlyphs" font-weight="bold">1,935.3</text>
<path d="M1419 519H1472a2 2 0 0 1 2 2V534a2 2 0 0 1 -2 2H1419z" fill="#000"/>
<text x="1427.90" y="530.90" font-size="12" fill="#fff" textLength="39.60" lengthAdjust="spacingAndGlyphs" font-weight="bold">1,770.2</text>
<path d="M1419 536H1472a2 2 0 0 1 2 2V551a2 2 0 0 1 -2 2H1419z" fill="#000"/>
<text x="1427.90" y="547.90" font-size="12" fill="#fff" textLength="39.60" lengthAdjust="spacingAndGlyphs" font-weight="bold">1,676.5</text>
<path d="M1419 553H1472a2 2 0 0 1 2 2V568a2 2 0 0 1 -2 2H1419z" fill="#000"/>
<text x="1427.90" y="564.90" font-size="12" fill="#fff" textLength="39.60" lengthAdjust="spacingAndGlyphs" font-weight="bold">1,622.0</text>
<path d="M1419 580H1472a2 2 0 0 1 2 2V595a2 2 0 0 1 -2 2H1419z" fill="#000"/>
<text x="1427.90" y="591.90" font-size="12" fill="#fff" textLength="39.60" lengthAdjust="spacingAndGlyphs" font-weight="bold">1,352.0</text>
<path d="M1419 650H1461a2 2 0 0 1 2 2V665a2 2 0 0 1 -2 2H1419z" fill="#000"/>
<text x="1427.90" y="662.90" font-size="12" fill="#fff" textLength="29.50" lengthAdjust="spacingAndGlyphs" font-weight="bold">880.0</text>
<path d="M1419 667H1461a2 2 0 0 1 2 2V682a2 2 0 0 1 -2 2H1419z" fill="#000"/>
<text x="1427.90" y="679.90" font-size="12" fill="#fff" textLength="29.50" lengthAdjust="spacingAndGlyphs" font-weight="bold">874.3</text>
<path d="M1419 272H1467a2 2 0 0 1 2 2V287a2 2 0 0 1 -2 2H1419z" fill="#D75442"/>
<text x="1428.00" y="284.90" font-size="12" fill="#fbe3df" textLength="35.70" lengthAdjust="spacingAndGlyphs">5d 10h</text>
<text x="58.50" y="823.00" font-size="12" fill="#555" text-anchor="middle">Apr</text>
<text x="159.50" y="823.00" font-size="12" fill="#555" text-anchor="middle">Jul</text>
<text x="260.50" y="823.00" font-size="12" fill="#555" text-anchor="middle">Oct</text>
<text x="361.50" y="823.00" font-size="12" fill="#555" font-weight="bold" text-anchor="middle">2022</text>
<text x="462.50" y="823.00" font-size="12" fill="#555" text-anchor="middle">Apr</text>
<text x="563.50" y="823.00" font-size="12" fill="#555" text-anchor="middle">Jul</text>
<text x="664.50" y="823.00" font-size="12" fill="#555" text-anchor="middle">Oct</text>
<text x="765.50" y="823.00" font-size="12" fill="#555" font-weight="bold" text-anchor="middle">2023</text>
<text x="865.50" y="823.00" font-size="12" fill="#555" text-anchor="middle">Apr</text>
<text x="966.50" y="823.00" font-size="12" fill="#555" text-anchor="middle">Jul</text>
<text x="1067.50" y="823.00" font-size="12" fill="#555" text-anchor="middle">Oct</text>
<text x="1168.50" y="823.00" font-size="12" fill="#555" font-weight="bold" text-anchor="middle">2024</text>
<text x="1269.50" y="823.00" font-size="12" fill="#555" text-anchor="middle">Apr</text>
<text x="1370.50" y="823.00" font-size="12" fill="#555" text-anchor="middle">Jul</text>
<rect x="7.3" y="8" width="676" height="25" fill="#fff" fill-opacity="0.62"/>
<circle cx="21.1" cy="20.1" r="9" fill="#f0f3fa"/>
<g shape-rendering="geometricPrecision"><polygon points="21,13.8 16.9,20.4 21,18.2" fill="#b8a2f2"/><polygon points="21,13.8 25.1,20.4 21,18.2" fill="#8deaea"/><polygon points="16.9,20.4 21,18.2 21,22.9" fill="#7a93f6"/><polygon points="25.1,20.4 21,18.2 21,22.9" fill="#d3a0f6"/><polygon points="16.9,21.4 21,23.9 21,26.3" fill="#7a93f6"/><polygon points="25.1,21.4 21,23.9 21,26.3" fill="#d3a0f6"/></g>
<text x="34.60" y="25.70" font-size="15" fill="#555" textLength="67.80" lengthAdjust="spacingAndGlyphs">Ethereum</text>
<text x="111.20" y="25.70" font-size="15" fill="#555" textLength="5.40" lengthAdjust="spacingAndGlyphs">/</text>
<text x="122.20" y="25.70" font-size="15" fill="#555" textLength="26.80" lengthAdjust="spacingAndGlyphs">U.S.</text>
<text x="157.00" y="25.70" font-size="15" fill="#555" textLength="39.60" lengthAdjust="spacingAndGlyphs">Dollar</text>
<text x="211.00" y="25.70" font-size="15" fill="#555" textLength="20.00" lengthAdjust="spacingAndGlyphs">1W</text>
<text x="245.50" y="25.70" font-size="15" fill="#555" textLength="66.30" lengthAdjust="spacingAndGlyphs">BITSTAMP</text>
<rect x="202.4" y="19.9" width="2.3" height="2.3" fill="#555"/><rect x="237.4" y="19.9" width="2.3" height="2.3" fill="#555"/>
<circle cx="336" cy="19.9" r="9" fill="#089981" fill-opacity="0.14"/><circle cx="336" cy="19.9" r="4" fill="#089981"/>
<text x="362.00" y="25.00" font-size="11.6" fill="#555" textLength="7.50" lengthAdjust="spacingAndGlyphs">O</text>
<text x="371.30" y="25.00" font-size="12.4" fill="#6a2a22" textLength="43.20" lengthAdjust="spacingAndGlyphs">3,537.0</text>
<text x="421.80" y="25.00" font-size="11.6" fill="#555" textLength="7.00" lengthAdjust="spacingAndGlyphs">H</text>
<text x="430.50" y="25.00" font-size="12.4" fill="#6a2a22" textLength="43.30" lengthAdjust="spacingAndGlyphs">3,562.6</text>
<text x="481.30" y="25.00" font-size="11.6" fill="#555" textLength="5.00" lengthAdjust="spacingAndGlyphs">L</text>
<text x="487.50" y="25.00" font-size="12.4" fill="#6a2a22" textLength="43.80" lengthAdjust="spacingAndGlyphs">3,426.0</text>
<text x="538.00" y="25.00" font-size="11.6" fill="#555" textLength="7.00" lengthAdjust="spacingAndGlyphs">C</text>
<text x="546.30" y="25.00" font-size="12.4" fill="#6a2a22" textLength="42.50" lengthAdjust="spacingAndGlyphs">3,440.1</text>
<text x="596.30" y="25.00" font-size="12.4" fill="#6a2a22" textLength="31.20" lengthAdjust="spacingAndGlyphs">−96.0</text>
<text x="632.50" y="25.00" font-size="12.4" fill="#6a2a22" textLength="48.00" lengthAdjust="spacingAndGlyphs">(−2.71%)</text>
<rect x="11.5" y="36.8" width="59" height="22.5" rx="4" fill="#fff" stroke="#f23645" stroke-width="1"/>
<text x="19.60" y="52.70" font-size="12.2" fill="#f23645" textLength="42.40" lengthAdjust="spacingAndGlyphs">3,439.6</text>
<text x="78.90" y="52.70" font-size="12.2" fill="#2a2e39" textLength="15.20" lengthAdjust="spacingAndGlyphs">0.7</text>
<rect x="102.5" y="36.8" width="59" height="22.5" rx="4" fill="#fff" stroke="#2962ff" stroke-width="1"/>
<text x="110.90" y="52.70" font-size="12.2" fill="#2962ff" textLength="42.20" lengthAdjust="spacingAndGlyphs">3,440.3</text>
<rect x="7.5" y="70.6" width="137.5" height="19.4" fill="#fff" fill-opacity="0.62"/>
<rect x="7.5" y="94.6" width="137.5" height="19.4" fill="#fff" fill-opacity="0.62"/>
<rect x="7.5" y="118.6" width="143.5" height="19.0" fill="#fff" fill-opacity="0.62"/>
<text x="12.20" y="80.70" font-size="12.3" fill="#555" textLength="73.50" lengthAdjust="spacingAndGlyphs">SMA 20 close</text>
<text x="94.60" y="80.70" font-size="12.3" fill="#f7384a" textLength="43.00" lengthAdjust="spacingAndGlyphs">3,391.9</text>
<text x="12.20" y="104.80" font-size="12.3" fill="#555" textLength="73.50" lengthAdjust="spacingAndGlyphs">SMA 50 close</text>
<text x="94.60" y="104.80" font-size="12.3" fill="#3a3aff" textLength="43.00" lengthAdjust="spacingAndGlyphs">2,657.8</text>
<text x="12.20" y="128.80" font-size="12.3" fill="#555" textLength="80.10" lengthAdjust="spacingAndGlyphs">SMA 200 close</text>
<text x="101.70" y="128.80" font-size="12.3" fill="#1a1a1a" textLength="42.20" lengthAdjust="spacingAndGlyphs">2,225.2</text>
<rect x="12.9" y="139.0" width="27.4" height="19.2" rx="3" fill="#fff" stroke="#d1d4dc" stroke-width="1"/>
<path d="M22.4 150.6L26.4 146.9L30.4 150.6" fill="none" stroke="#2a2e39" stroke-width="1.5"/>
<rect x="8" y="694.6" width="150" height="19.4" fill="#fff" fill-opacity="0.62"/>
<rect x="7.5" y="773.5" width="116" height="19" fill="#fff" fill-opacity="0.62"/>
<text x="12.20" y="707.00" font-size="12.3" fill="#555" textLength="101.50" lengthAdjust="spacingAndGlyphs">CCI 20 hlc3 SMA 5</text>
<text x="122.50" y="707.00" font-size="12.3" fill="#2962ff" textLength="30.50" lengthAdjust="spacingAndGlyphs">32.21</text>
<text x="12.20" y="783.90" font-size="12.3" fill="#555" textLength="67.00" lengthAdjust="spacingAndGlyphs">ATR 14 RMA</text>
<text x="87.80" y="783.90" font-size="12.3" fill="#c0202c" textLength="31.30" lengthAdjust="spacingAndGlyphs">376.5</text>
<g transform="translate(15.2,772.7) scale(0.82)" fill="#131722" fill-opacity="0.5"><path d="M14 22H7V11H0V4h14v18z"/><circle cx="20" cy="8" r="4"/><path d="M28 22h-8l7.5-18h8L28 22z"/></g>
<rect x="1423.5" y="8.5" width="53" height="25" rx="3" fill="#fff" stroke="#e0e3eb" stroke-width="1"/>
<text x="1427.20" y="25.20" font-size="12.6" fill="#131722" textLength="20.80" lengthAdjust="spacingAndGlyphs">USD</text>
<path d="M1467 20.1L1469.5 22.6L1472 20.1" fill="none" stroke="#131722" stroke-width="1.3"/>
<circle cx="1393.6" cy="672.5" r="9.7" fill="#fff" stroke="#9c27b0" stroke-width="1.6"/>
<path d="M1396.2 667.6L1389.9 672.4L1397.0 673.0L1390.4 677.7" fill="none" stroke="#9c27b0" stroke-width="1.6" stroke-linejoin="bevel"/>
<circle cx="1400.5" cy="665.6" r="3.9" fill="#fff"/><circle cx="1400.5" cy="665.6" r="2.6" fill="#f23645"/>
<path d="M1443.5 819.5L1446.7 813.8H1454.3L1457.5 819.5L1454.3 825.2H1446.7z" fill="none" stroke="#2a2e39" stroke-width="1.2" stroke-linejoin="round"/>
<circle cx="1450.5" cy="819.5" r="2.0" fill="none" stroke="#2a2e39" stroke-width="1.0"/>
</svg>
</body></html>
